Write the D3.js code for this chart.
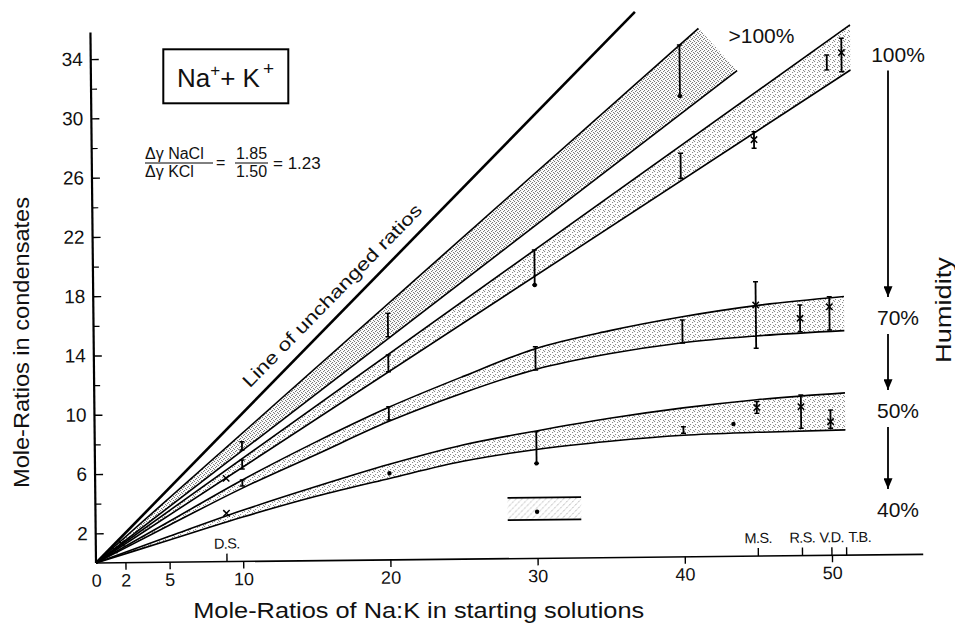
<!DOCTYPE html>
<html>
<head>
<meta charset="utf-8">
<script src="https://cdn.jsdelivr.net/npm/d3@7"></script>
<style>
  body { margin: 0; background: #fff; }
  svg text { font-family: "Liberation Sans", Arial, sans-serif; fill: #111; }
</style>
</head>
<body>
<div id="chart"></div>
<script>
const WIDTH = 955;
const HEIGHT = 624;

// ---- DATA ----
const xTickValues = [0, 2, 5, 10, 20, 30, 40, 50];
const yTickValues = [2, 6, 10, 14, 18, 22, 26, 30, 34];
const yMinorValues = [4, 8, 12, 16, 20, 24, 28, 32];
const siteNames = ["D.S.", "M.S.", "R.S.", "V.D.", "T.B."];
const siteX = [8.9, 45, 48, 50, 51];

const unchangedLine = [[0, 0], [37.0, 36.8]];
const over100Upper = [[0, 0], [41.3, 35.65]];
const over100Lower = [[0, 0], [43.9, 32.77]];
const rh100Upper = [[0, 0], [51.6, 35.77]];
const rh100Lower = [[0, 0], [51.6, 32.73]];

const bandX = [0, 5, 10, 15, 20, 25, 30, 35, 40, 45, 51];
const rh70Upper = [0, 2.75, 5.5, 8.0, 10.3, 12.3, 14.15, 15.3, 16.2, 16.9, 17.45];
const rh70Lower = [0, 2.5, 4.95, 7.15, 9.35, 11.2, 12.75, 13.75, 14.45, 14.85, 15.15];
const rh50Upper = [0, 1.75, 3.45, 5.0, 6.45, 7.7, 8.6, 9.4, 10.05, 10.55, 10.95];
const rh50Lower = [0, 1.5, 3.0, 4.35, 5.5, 6.6, 7.35, 7.85, 8.2, 8.35, 8.45];

const rh40X = [28, 33];
const rh40Y = [2.6, 4.1];

// error bars: [x, low, high]
const over100Bars = [[10, 7.52, 8.08], [20, 15.06, 16.64], [40, 31.1, 34.54]];
const rh100Bars = [[10, 6.24, 6.85], [20, 12.7, 13.83], [30, 18.45, 20.81], [40, 25.54, 27.23],
                   [45, 27.52, 28.64], [50, 32.75, 33.76], [51, 32.62, 34.88]];
const rh70Bars = [[10, 5.09, 5.5], [20, 9.44, 10.34], [30, 12.71, 14.28], [40, 14.43, 15.98],
                  [45, 14.02, 18.51], [48, 15.11, 16.91], [50, 15.2, 17.45]];
const rh50Bars = [[30, 6.41, 8.55], [40, 8.34, 8.78], [45, 9.63, 10.42], [48, 8.59, 10.84], [50, 8.57, 9.8]];

// single points marked with a cross or a dot
const crossPoints = [[8.9, 5.62], [45, 28.1], [51, 33.91], [45, 16.94], [48, 16.01], [50, 16.77],
                     [8.9, 3.26], [45, 10.03], [48, 10.05], [50, 9.02], [1.75, 1.3], [1.25, 0.86]];
const dotPoints = [[40, 31.1], [30, 18.45], [20, 5.85], [30, 6.41], [43.4, 8.93], [30, 3.15]];

const humidityLabels = ["100%", "70%", "50%", "40%"];

// ---- SCALES ----
const x = d3.scaleLinear().domain([0, 50]).range([96, 832]);
const y = d3.scaleLinear().domain([0, 34]).range([563, 59.1]);

const svg = d3.select("#chart")
  .append("svg")
  .attr("width", WIDTH)
  .attr("height", HEIGHT);

// stipple patterns
const defs = svg.append("defs");
function stipple(id, size, dots, color) {
  const p = defs.append("pattern")
    .attr("id", id)
    .attr("width", size)
    .attr("height", size)
    .attr("patternUnits", "userSpaceOnUse")
    .attr("patternTransform", "rotate(0.6)");
  p.selectAll("rect").data(dots).join("rect")
    .attr("x", d => d[0]).attr("y", d => d[1])
    .attr("width", 1).attr("height", 1)
    .attr("fill", color);
}
stipple("dense", 4, [[0, 0], [2, 1], [1, 2], [3, 3]], "#666");
stipple("light", 5, [[0, 0], [3, 1], [1, 3], [4, 4]], "#777");
const hatch = defs.append("pattern")
  .attr("id", "hatch").attr("width", 6).attr("height", 6)
  .attr("patternUnits", "userSpaceOnUse");
hatch.append("path").attr("d", "M0,6 L6,0").attr("stroke", "#999")
  .attr("stroke-width", 0.9).attr("stroke-dasharray", "1.2,1");

// arrow head for the humidity arrows
defs.append("marker")
  .attr("id", "head").attr("viewBox", "0 0 12 10")
  .attr("refX", 12).attr("refY", 5)
  .attr("markerWidth", 12).attr("markerHeight", 9)
  .attr("markerUnits", "userSpaceOnUse")
  .attr("orient", "auto")
  .append("path").attr("d", "M0,0 L12,5 L0,10 Z").attr("fill", "#000");

// whole plot sits slightly tilted like the scanned original
const plot = svg.append("g")
  .attr("transform", `rotate(-0.6, ${x(0)}, ${y(0)})`);

const straight = d3.line().x(d => x(d[0])).y(d => y(d[1]));

// shaded straight bands
plot.append("path")
  .attr("d", straight(over100Upper.concat(over100Lower.slice().reverse())))
  .attr("fill", "url(#dense)");
plot.append("path")
  .attr("d", straight(rh100Upper.concat(rh100Lower.slice().reverse())))
  .attr("fill", "url(#light)");

// shaded curved bands
function curvedBand(upper, lower) {
  const area = d3.area().curve(d3.curveMonotoneX)
    .x((d, i) => x(bandX[i]))
    .y0((d, i) => y(lower[i]))
    .y1((d, i) => y(upper[i]));
  plot.append("path").attr("d", area(bandX)).attr("fill", "url(#light)");
  const edge = d3.line().curve(d3.curveMonotoneX).x((d, i) => x(bandX[i]));
  [upper, lower].forEach(arr => {
    plot.append("path")
      .attr("d", edge.y((d, i) => y(arr[i]))(bandX))
      .attr("fill", "none").attr("stroke", "#000").attr("stroke-width", 1.6);
  });
}
curvedBand(rh70Upper, rh70Lower);
curvedBand(rh50Upper, rh50Lower);

// straight band edges
[over100Upper, over100Lower, rh100Upper, rh100Lower].forEach(l => {
  plot.append("path").attr("d", straight(l))
    .attr("fill", "none").attr("stroke", "#000").attr("stroke-width", 1.6);
});

// line of unchanged ratios
plot.append("path").attr("d", straight(unchangedLine))
  .attr("fill", "none").attr("stroke", "#000").attr("stroke-width", 2.6);

const angle = Math.atan2(y(unchangedLine[1][1]) - y(0), x(unchangedLine[1][0]) - x(0)) * 180 / Math.PI;
const labelAt = 17.1;
plot.append("text")
  .attr("transform", `translate(${x(labelAt)}, ${y(labelAt * unchangedLine[1][1] / unchangedLine[1][0])}) rotate(${angle})`)
  .attr("y", -12)
  .attr("text-anchor", "middle")
  .attr("font-size", 18)
  .attr("textLength", 248)
  .attr("lengthAdjust", "spacingAndGlyphs")
  .text("Line of unchanged ratios");

// 40% box
plot.append("rect")
  .attr("x", x(rh40X[0])).attr("width", x(rh40X[1]) - x(rh40X[0]))
  .attr("y", y(rh40Y[1])).attr("height", y(rh40Y[0]) - y(rh40Y[1]))
  .attr("fill", "url(#hatch)");
rh40Y.forEach(v => {
  plot.append("line")
    .attr("x1", x(rh40X[0])).attr("x2", x(rh40X[1]))
    .attr("y1", y(v)).attr("y2", y(v))
    .attr("stroke", "#000").attr("stroke-width", 1.8);
});

// error bars
const allBars = over100Bars.concat(rh100Bars, rh70Bars, rh50Bars);
const barG = plot.append("g").attr("stroke", "#000");
barG.selectAll("line.bar").data(allBars).join("line")
  .attr("class", "bar")
  .attr("x1", d => x(d[0])).attr("x2", d => x(d[0]))
  .attr("y1", d => y(d[1])).attr("y2", d => y(d[2]))
  .attr("stroke-width", 1.8);
barG.selectAll("line.cap")
  .data(allBars.flatMap(d => [[d[0], d[1]], [d[0], d[2]]]))
  .join("line")
  .attr("class", "cap")
  .attr("x1", d => x(d[0]) - 2.5).attr("x2", d => x(d[0]) + 2.5)
  .attr("y1", d => y(d[1])).attr("y2", d => y(d[1]))
  .attr("stroke-width", 1.4);

// crosses and dots
const crossG = plot.append("g").attr("stroke", "#000").attr("stroke-width", 1.5);
crossG.selectAll("path").data(crossPoints).join("path")
  .attr("d", d => {
    const cx = x(d[0]), cy = y(d[1]), s = 3.2;
    return `M${cx - s},${cy - s}L${cx + s},${cy + s}M${cx - s},${cy + s}L${cx + s},${cy - s}`;
  });
plot.append("g").selectAll("circle").data(dotPoints).join("circle")
  .attr("cx", d => x(d[0])).attr("cy", d => y(d[1]))
  .attr("r", 2.2).attr("fill", "#000");

// ---- AXES ----
plot.append("line")
  .attr("x1", x(0)).attr("x2", x(0))
  .attr("y1", y(0)).attr("y2", y(35.8))
  .attr("stroke", "#000").attr("stroke-width", 2.2);
plot.append("line")
  .attr("x1", x(0)).attr("x2", x(56.2))
  .attr("y1", y(0)).attr("y2", y(0))
  .attr("stroke", "#000").attr("stroke-width", 1.6);

const yAxis = plot.append("g")
  .attr("transform", `translate(${x(0)},0)`)
  .call(d3.axisLeft(y).tickValues(yTickValues).tickSize(-8).tickPadding(8).tickFormat(d3.format("d")))
  .call(g => g.select(".domain").remove());
yAxis.attr("font-family", null).attr("font-size", 19);
yAxis.selectAll("line").attr("stroke-width", 1.4);

plot.append("g")
  .attr("transform", `translate(${x(0)},0)`)
  .call(d3.axisLeft(y).tickValues(yMinorValues).tickSize(-6).tickFormat(""))
  .call(g => g.select(".domain").remove())
  .selectAll("line").attr("stroke-width", 1.2);

const xAxis = plot.append("g")
  .attr("transform", `translate(0,${y(0)})`)
  .call(d3.axisBottom(x).tickValues(xTickValues).tickSize(7).tickPadding(4).tickFormat(d3.format("d")))
  .call(g => g.select(".domain").remove())
  .call(g => g.selectAll(".tick").filter(d => d === 0).select("line").remove());
xAxis.attr("font-family", null).attr("font-size", 18);
xAxis.selectAll("line").attr("stroke-width", 1.4);

// sampling sites along the x axis
const sites = plot.append("g").attr("transform", `translate(0,${y(0)})`);
sites.selectAll("line").data(siteX).join("line")
  .attr("x1", d => x(d)).attr("x2", d => x(d))
  .attr("y1", 0).attr("y2", -8)
  .attr("stroke", "#000").attr("stroke-width", 1.4);
const last = siteNames.length - 1;
sites.selectAll("text").data(siteNames).join("text")
  .attr("x", (d, i) => i === last ? x(siteX[i]) + 2 : x(siteX[i]))
  .attr("y", -13)
  .attr("text-anchor", (d, i) => i === last ? "start" : "middle")
  .attr("font-size", 14.5)
  .attr("letter-spacing", -0.6)
  .text(d => d);

// ---- TITLES & ANNOTATIONS ----
svg.append("text")
  .attr("x", 418.7).attr("y", 618)
  .attr("text-anchor", "middle")
  .attr("font-size", 22)
  .attr("textLength", 451)
  .attr("lengthAdjust", "spacingAndGlyphs")
  .text("Mole-Ratios of Na:K in starting solutions");

svg.append("text")
  .attr("transform", "translate(29,342.5) rotate(-90)")
  .attr("text-anchor", "middle")
  .attr("font-size", 22)
  .attr("textLength", 291)
  .attr("lengthAdjust", "spacingAndGlyphs")
  .text("Mole-Ratios in condensates");

// ion box
svg.append("rect")
  .attr("x", 163.3).attr("y", 49.3).attr("width", 125).attr("height", 54)
  .attr("fill", "none").attr("stroke", "#000").attr("stroke-width", 2);
const ion = svg.append("text").attr("x", 177).attr("y", 87).attr("font-size", 26);
ion.append("tspan").text("Na");
ion.append("tspan").attr("dy", -11).attr("font-size", 17).text("+");
ion.append("tspan").attr("dy", 11).text("+ K");
ion.append("tspan").attr("dy", -12).attr("dx", 3).attr("font-size", 19).text("+");

// activity ratio
const fg = svg.append("g").attr("font-size", 16);
fg.append("text").attr("x", 145).attr("y", 159).text("\u0394\u03b3 NaCl");
fg.append("text").attr("x", 145).attr("y", 177).text("\u0394\u03b3 KCl");
fg.append("line").attr("x1", 145).attr("x2", 213).attr("y1", 163).attr("y2", 163)
  .attr("stroke", "#000").attr("stroke-width", 1);
fg.append("text").attr("x", 216).attr("y", 168).text("=");
fg.append("text").attr("x", 251.5).attr("y", 159).attr("text-anchor", "middle").text("1.85");
fg.append("text").attr("x", 251.5).attr("y", 177).attr("text-anchor", "middle").text("1.50");
fg.append("line").attr("x1", 235).attr("x2", 268).attr("y1", 163).attr("y2", 163)
  .attr("stroke", "#000").attr("stroke-width", 1);
fg.append("text").attr("x", 273).attr("y", 169).attr("font-size", 17).text("= 1.23");

// humidity labels
svg.append("text")
  .attr("x", 761.5).attr("y", 43)
  .attr("text-anchor", "middle").attr("font-size", 21)
  .text(">100%");

const humidityY = [61.5, 325, 418, 517];
svg.append("g").selectAll("text").data(humidityLabels).join("text")
  .attr("x", 898).attr("y", (d, i) => humidityY[i])
  .attr("text-anchor", "middle").attr("font-size", 21)
  .text(d => d);

const arrowX = 888;
svg.append("g").selectAll("line").data(d3.pairs(humidityY)).join("line")
  .attr("x1", arrowX).attr("x2", arrowX)
  .attr("y1", d => d[0] + 9)
  .attr("y2", d => d[1] - 28)
  .attr("stroke", "#000").attr("stroke-width", 1.8)
  .attr("marker-end", "url(#head)");

svg.append("text")
  .attr("transform", "translate(951,310) rotate(-90)")
  .attr("text-anchor", "middle")
  .attr("font-size", 22)
  .attr("textLength", 106)
  .attr("lengthAdjust", "spacingAndGlyphs")
  .text("Humidity");
</script>
</body>
</html>
